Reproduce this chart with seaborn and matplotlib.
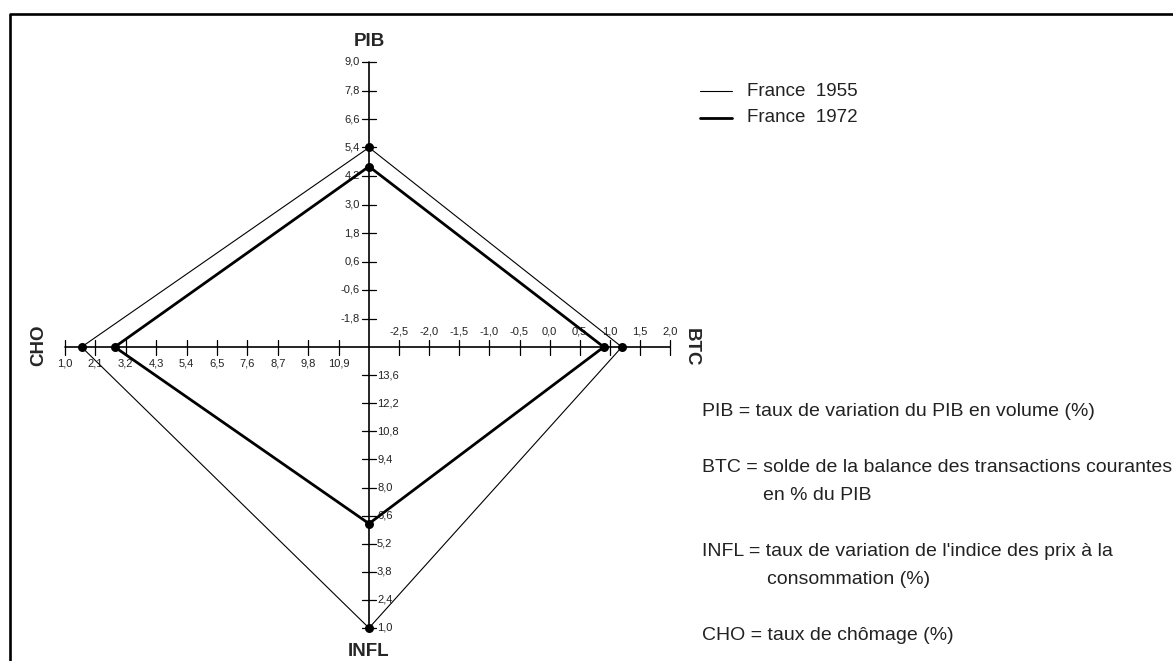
import numpy as np
import pandas as pd
import matplotlib.pyplot as plt
import seaborn as sns

# carre magique - France 1955 / 1972
axes_names = ['PIB', 'BTC', 'INFL', 'CHO']
france_1955 = [5.4, 1.2, 1.0, 1.6]
france_1972 = [4.6, 0.9, 6.2, 2.8]
series_names = ['France  1955', 'France  1972']

pib_ticks = [-1.8, -0.6, 0.6, 1.8, 3.0, 4.2, 5.4, 6.6, 7.8, 9.0]
btc_ticks = [-2.5, -2.0, -1.5, -1.0, -0.5, 0.0, 0.5, 1.0, 1.5, 2.0]
infl_ticks = [13.6, 12.2, 10.8, 9.4, 8.0, 6.6, 5.2, 3.8, 2.4, 1.0]
cho_ticks = [1.0, 2.1, 3.2, 4.3, 5.4, 6.5, 7.6, 8.7, 9.8, 10.9]

definitions = [
    ('PIB = taux de variation du PIB en volume (%)', None),
    ('BTC = solde de la balance des transactions courantes', 'en % du PIB'),
    ("INFL = taux de variation de l'indice des prix à la", 'consommation (%)'),
    ('CHO = taux de chômage (%)', None),
]

sns.set_style('white')
plt.rcParams['font.family'] = ['Liberation Sans', 'DejaVu Sans']

# geometry of the four half-axes (value at centre, value at end, length px, direction)
cx, cy = 369, 347
scales = {
    'PIB': (-3.0, 9.0, 285, (0, -1)),
    'BTC': (-3.0, 2.0, 301, (1, 0)),
    'INFL': (15.0, 1.0, 281, (0, 1)),
    'CHO': (12.0, 1.0, 304, (-1, 0)),
}
ticks = {'PIB': pib_ticks, 'BTC': btc_ticks, 'INFL': infl_ticks, 'CHO': cho_ticks}


def to_xy(name, v):
    v0, v1, L, (dx, dy) = scales[name]
    r = (v - v0) / (v1 - v0) * L
    return cx + dx * r, cy + dy * r


def fmt(v):
    return f'{v:.1f}'.replace('.', ',')


fig = plt.figure(figsize=(11.73, 6.61), dpi=100)
ax = fig.add_axes([0, 0, 1, 1])

# axes lines + ticks
for name in axes_names:
    x0, y0 = to_xy(name, scales[name][0])
    x1, y1 = to_xy(name, scales[name][1])
    ax.plot([x0, x1], [y0, y1], color='black', lw=1.2, zorder=2)
    dx, dy = scales[name][3]
    for t in ticks[name]:
        tx, ty = to_xy(name, t)
        if dx == 0:
            ax.plot([tx - 7, tx + 7], [ty, ty], color='black', lw=0.9, zorder=2)
        else:
            ax.plot([tx, tx], [ty - 7.5, ty + 7.5], color='black', lw=0.9, zorder=2)
        if name == 'PIB':
            ax.text(tx - 9, ty, fmt(t), ha='right', va='center', fontsize=8, color='#222222')
        elif name == 'INFL':
            ax.text(tx + 8, ty, fmt(t), ha='left', va='center', fontsize=8, color='#222222')
        elif name == 'BTC':
            ax.text(tx, ty - 16, fmt(t), ha='center', va='center', fontsize=8, color='#222222')
        else:
            ax.text(tx, ty + 16, fmt(t), ha='center', va='center', fontsize=8, color='#222222')

# polygons
rows = []
for serie, vals in zip(series_names, [france_1955, france_1972]):
    for i, name in enumerate(axes_names + [axes_names[0]]):
        x, y = to_xy(name, vals[i % 4])
        rows.append({'serie': serie, 'axe': name, 'x': x, 'y': y, 'ordre': i})
df = pd.DataFrame(rows)

widths = {'France  1955': 0.8, 'France  1972': 2.0}
for serie in series_names:
    sub = df[df['serie'] == serie]
    sns.lineplot(data=sub, x='x', y='y', sort=False, estimator=None,
                 color='black', lw=widths[serie], ax=ax, zorder=3)
    sns.scatterplot(data=sub[sub['ordre'] < 4], x='x', y='y', color='black',
                    s=42, edgecolor='black', linewidth=0, ax=ax, zorder=4)

# axis titles
ax.text(cx, 41, 'PIB', ha='center', va='center', fontsize=13.5, fontweight='bold')
ax.text(cx, 651, 'INFL', ha='center', va='center', fontsize=13.5, fontweight='bold')
ax.text(39, 345, 'CHO', ha='center', va='center', fontsize=13.5, fontweight='bold', rotation=90)
ax.text(691, 347, 'BTC', ha='center', va='center', fontsize=13.5, fontweight='bold', rotation=270)

# legend
for j, serie in enumerate(series_names):
    ly = 91 + j * 27
    ax.plot([700, 732], [ly, ly], color='black', lw=widths[serie])
    ax.text(747, ly, serie, ha='left', va='center', fontsize=13.5, color='#222222')

# definitions
line_y = [411, 467, 552, 636]
for (main, second), y in zip(definitions, line_y):
    ax.text(702, y, main, ha='left', va='center', fontsize=14, color='#222222')
    if second:
        indent = 763 if second.startswith('en') else 767
        ax.text(indent, y + 28, second, ha='left', va='center', fontsize=14, color='#222222')

# frame (top and left visible)
ax.plot([9.5, 9.5, 1180], [680, 14, 14], color='black', lw=1.9)

ax.set_xlim(0, 1173)
ax.set_ylim(661, 0)
ax.axis('off')
fig.savefig('out.png', dpi=100)
